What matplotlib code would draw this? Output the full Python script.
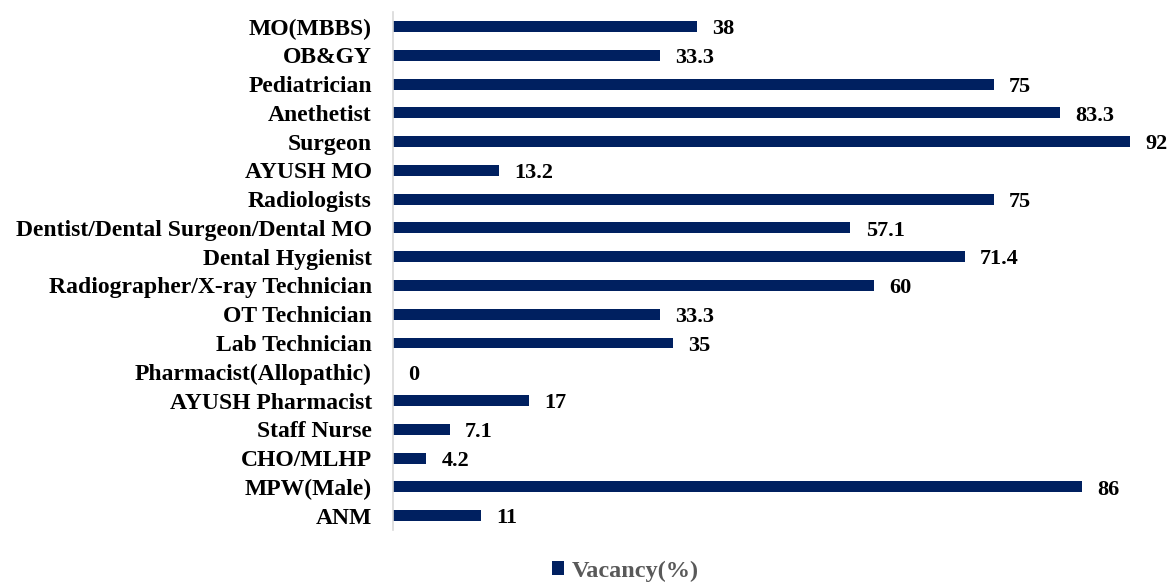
import matplotlib
matplotlib.use("Agg")
import matplotlib.pyplot as plt

categories = [
    "MO(MBBS)", "OB&GY", "Pediatrician", "Anethetist", "Surgeon", "AYUSH MO",
    "Radiologists", "Dentist/Dental Surgeon/Dental MO", "Dental Hygienist",
    "Radiographer/X-ray Technician", "OT Technician", "Lab Technician",
    "Pharmacist(Allopathic)", "AYUSH Pharmacist", "Staff Nurse", "CHO/MLHP",
    "MPW(Male)", "ANM",
]
vacancy = [38, 33.3, 75, 83.3, 92, 13.2, 75, 57.1, 71.4, 60, 33.3, 35, 0, 17, 7.1, 4.2, 86, 11]

bar_color = "#002060"
plt.rcParams["font.family"] = ["Liberation Serif", "DejaVu Serif"]

fig = plt.figure(figsize=(11.69, 5.83), dpi=100)
ax = fig.add_axes([0.336, 0.091, 0.658, 0.888])

y = list(range(len(categories)))
bars = ax.barh(y, vacancy, height=0.38, color=bar_color, label="Vacancy(%)")

# value labels just past the end of each bar
for yi, v in zip(y, vacancy):
    ax.annotate(f"{v:g}", (v, yi), xytext=(11, -2), textcoords="offset points",
                ha="left", va="center", fontsize=16, fontweight="bold", color="black")

ax.set_yticks(y)
ax.set_yticklabels(categories, fontsize=17, fontweight="bold")
ax.tick_params(axis="y", length=0, pad=15)
ax.set_ylim(len(categories) - 0.5, -0.5)
ax.set_xlim(0, 96)
ax.set_xticks([])

for side in ["top", "right", "bottom"]:
    ax.spines[side].set_visible(False)
ax.spines["left"].set_color("#d9d9d9")
ax.spines["left"].set_linewidth(1.2)

leg = fig.legend(handles=[bars], labels=["Vacancy(%)"], loc="center",
                 bbox_to_anchor=(0.535, 0.02), frameon=False,
                 prop={"size": 17.5, "weight": "bold"}, handlelength=0.5,
                 handleheight=0.5, handletextpad=0.3)
for t in leg.get_texts():
    t.set_color("#595959")

fig.savefig("out.png", dpi=100)
